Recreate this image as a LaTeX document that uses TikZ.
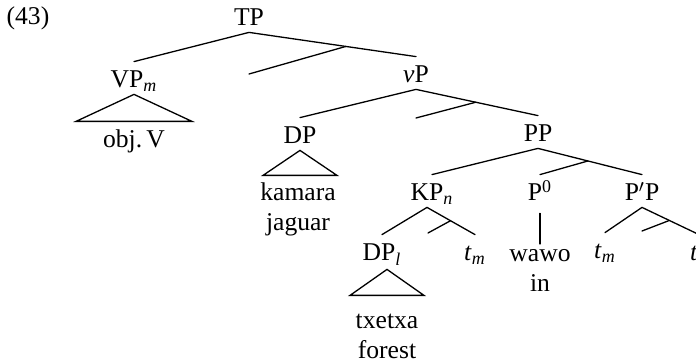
\documentclass[tikz,border=0pt]{standalone}
\usepackage{fontspec}
\setmainfont{Liberation Serif}
\usetikzlibrary{calc}
\newcommand{\subit}[1]{\textsubscript{\textit{#1}}}
\tikzset{
  catlabel/.style={inner sep=0pt,text height=13pt,text depth=3pt,anchor=base},
  leaflabel/.style={inner sep=0pt,align=center,anchor=base},
  treeline/.style={line width=0.65pt,line cap=round}
}
\begin{document}
\begin{tikzpicture}[x=0.5pt,y=-0.5pt,font=\fontsize{12.8}{15}\selectfont]
  \useasboundingbox (0,0) rectangle (696,363);
  \clip (0,0) rectangle (696,363);
  \node[leaflabel] (ex) at (28,25) {(43)};
  % category labels
  \node[catlabel] (TP) at (249,26) {TP};
  \node[catlabel] (VPm) at (134,88) {VP\subit{m}};
  \node[catlabel] (vP) at (416,83) {\textit{v}P};
  \node[catlabel] (DP) at (300,144) {DP};
  \node[catlabel] (PP) at (538,142) {PP};
  \node[catlabel] (KPn) at (432,201) {KP\subit{n}};
  \node[catlabel] (P0) at (540,201) {P\textsuperscript{0}};
  \node[catlabel] (PpP) at (642,201) {P$'$P};
  \node[catlabel] (DPl) at (382,261) {DP\subit{l}};
  \node[catlabel] (tm1) at (475,261) {\textit{t}\subit{m}};
  \node[catlabel] (tm2) at (605,259) {\textit{t}\subit{m}};
  \node[catlabel] (tn) at (699,261) {\textit{t}\subit{n}};
  % words (base = last line)
  \node[leaflabel] (objV) at (134,148) {obj.\,V};
  \node[leaflabel] (kamara) at (298,231) {kamara\\jaguar};
  \node[leaflabel] (wawo) at (540,292) {wawo\\in};
  \node[leaflabel] (txetxa) at (387,358) {txetxa\\forest};
  % branches
  \draw[treeline] (TP.south) -- (VPm.north);
  \draw[treeline] (TP.south) -- (vP.north);
  \coordinate (TPmid) at ($(TP.south)!0.58!(vP.north)$);
  \coordinate (TPgap) at (249,74);
  \draw[treeline] (TPmid) -- (TPgap);
  \draw[treeline] (vP.south) -- (DP.north);
  \draw[treeline] (vP.south) -- (PP.north);
  \coordinate (vPmid) at ($(vP.south)!0.49!(PP.north)$);
  \coordinate (vPgap) at (416,118);
  \draw[treeline] (vPmid) -- (vPgap);
  \draw[treeline] (PP.south) -- (KPn.north);
  \draw[treeline] (PP.south) -- (PpP.north);
  \coordinate (PPmid) at ($(PP.south)!0.48!(PpP.north)$);
  \draw[treeline] (PPmid) -- (P0.north);
  \coordinate (KPtop) at ($(KPn.south)+(-5,0)$);
  \draw[treeline] (KPtop) -- (DPl.north);
  \draw[treeline] (KPtop) -- (tm1.north);
  \coordinate (KPmid) at ($(KPtop)!0.49!(tm1.north)$);
  \coordinate (KPgap) at (428,233);
  \draw[treeline] (KPmid) -- (KPgap);
  \draw[treeline] (PpP.south) -- (tm2.north);
  \draw[treeline] (PpP.south) -- (tn.north);
  \coordinate (PpPmid) at ($(PpP.south)!0.48!(tn.north)$);
  \coordinate (PpPgap) at (642,231);
  \draw[treeline] (PpPmid) -- (PpPgap);
  \draw[treeline] ([yshift=-3pt]P0.south) -- ([yshift=-3pt]P0.south |- 0,238);
  % triangles
  \draw[treeline] (VPm.south) -- ++(-58,27) -- ++(116,0) -- cycle;
  \draw[treeline] (DP.south) -- ++(-37,25) -- ++(74,0) -- cycle;
  \coordinate (DPltop) at ($(DPl.south)+(5,2)$);
  \draw[treeline] (DPltop) -- ++(-37,26) -- ++(74,0) -- cycle;
\end{tikzpicture}
\end{document}
